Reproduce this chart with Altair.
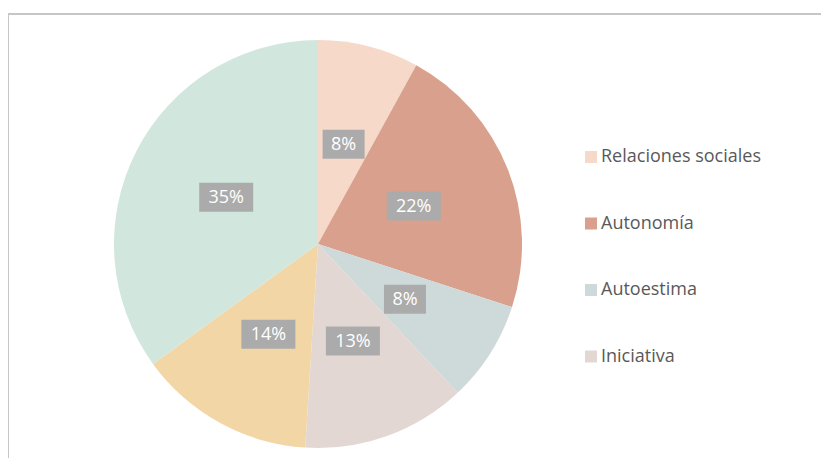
import altair as alt
import pandas as pd

categories = ["Relaciones sociales", "Autonomía", "Autoestima", "Iniciativa",
              "Responsabilidad", "Comunicación"]
values = [8, 22, 8, 13, 14, 35]
colors = ["#F6D9C9", "#D8A08D", "#CED9DA", "#E3D7D4", "#F2D6A6", "#D1E7DE"]
legend_shown = ["Relaciones sociales", "Autonomía", "Autoestima", "Iniciativa"]

df = pd.DataFrame({
    "cat": categories,
    "v": values,
    "idx": list(range(len(categories))),
    "label": [f"{v}%" for v in values],
})

CX, CY, R, LR = 305, 231, 204, 103
FONT = "Open Sans"

base = alt.Chart(df)

pie = base.mark_arc(stroke=None).encode(
    theta=alt.Theta("v:Q", stack=True),
    order=alt.Order("idx:Q"),
    color=alt.Color(
        "cat:N",
        scale=alt.Scale(domain=categories, range=colors),
        legend=alt.Legend(values=legend_shown, title=None),
    ),
    x=alt.value(CX),
    y=alt.value(CY),
    radius=alt.value(R),
)

labelled = base.transform_window(
    cum="sum(v)", sort=[alt.SortField("idx")], frame=[None, 0]
).transform_joinaggregate(
    tot="sum(v)"
).transform_calculate(
    ang="(datum.cum - datum.v / 2) / datum.tot * 2 * PI",
).transform_calculate(
    px=f"{CX} + {LR} * sin(datum.ang)",
    py=f"{CY} - {LR} * cos(datum.ang)",
    box="length(datum.label) > 2 ? 'M-0.54,-0.29L0.54,-0.29L0.54,0.29L-0.54,0.29Z' : 'M-0.42,-0.29L0.42,-0.29L0.42,0.29L-0.42,0.29Z'",
)

boxes = labelled.mark_point(filled=True, opacity=1, color="#ABABAB", strokeWidth=0).encode(
    x=alt.X("px:Q", scale=None),
    y=alt.Y("py:Q", scale=None),
    shape=alt.Shape("box:N", scale=None, legend=None),
    size=alt.value(10000),
)

texts = labelled.mark_text(
    font=FONT, fontSize=18, color="white", baseline="middle", align="center", dy=1
).encode(
    x=alt.X("px:Q", scale=None),
    y=alt.Y("py:Q", scale=None),
    text="label:N",
)

one = pd.DataFrame({"a": [0]})
frame_top = alt.Chart(one).mark_rule(color="#C6C6C6", strokeWidth=2).encode(
    x=alt.value(-5), x2=alt.value(830), y=alt.value(1)
)
frame_left = alt.Chart(one).mark_rule(color="#C6C6C6", strokeWidth=2).encode(
    x=alt.value(-5), y=alt.value(0), y2=alt.value(470)
)

chart = alt.layer(frame_top, frame_left, pie, boxes, texts).properties(
    width=808,
    height=445,
    padding={"left": 5, "top": 5, "right": 0, "bottom": 0},
    autosize=alt.AutoSizeParams(type="none"),
).configure_view(
    stroke=None
).configure_legend(
    orient="none",
    legendX=569,
    legendY=135,
    padding=0,
    symbolType="square",
    symbolSize=144,
    symbolStrokeWidth=0,
    labelFont=FONT,
    labelFontSize=18,
    labelColor="#595959",
    labelOffset=1,
    rowPadding=48.5,
)

chart.save("out.html", embed_options={"renderer": "svg", "actions": False})
